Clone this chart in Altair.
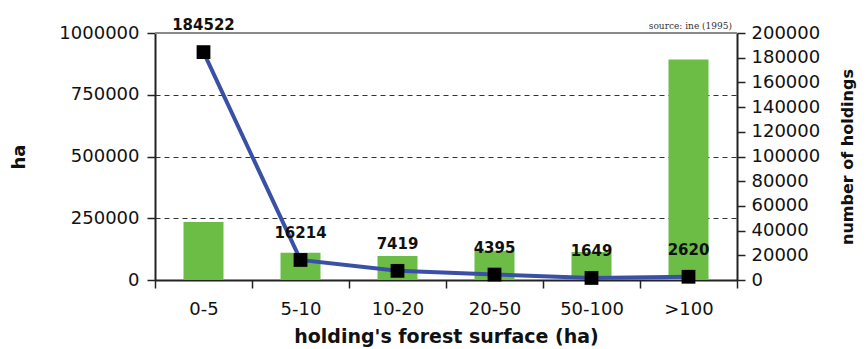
import altair as alt
import pandas as pd

categories = ["0-5", "5-10", "10-20", "20-50", "50-100", ">100"]
surface_ha = [235000, 110000, 97000, 118000, 113000, 893000]
holdings = [184522, 16214, 7419, 4395, 1649, 2620]
left_ticks = [0, 250000, 500000, 750000, 1000000]
right_ticks = list(range(0, 200001, 20000))

df = pd.DataFrame({
    "cat": categories,
    "ha": surface_ha,
    "holdings": holdings,
    "label": [str(v) for v in holdings],
})

GREEN = "#6cbd45"
BLUE = "#3a50a6"

x_enc = alt.X(
    "cat:N", sort=categories, title="holding's forest surface (ha)",
    scale=alt.Scale(paddingInner=0, paddingOuter=0),
    axis=alt.Axis(labelAngle=0, tickBand="extent", labelPadding=12,
                  titlePadding=9, titleFontSize=19),
)

bars = alt.Chart(df).mark_bar(color=GREEN, size=40).encode(
    x=x_enc,
    y=alt.Y("ha:Q", title="ha",
            scale=alt.Scale(domain=[0, 1000000], nice=False),
            axis=alt.Axis(values=left_ticks, format="d", grid=True,
                          gridDash=[5, 4], gridColor="#333", gridWidth=1,
                          titlePadding=30, labelPadding=8, titleFontSize=18)),
)

top_rule = alt.Chart(df).mark_rule(color="#8a8a8a", strokeWidth=2).encode(
    y=alt.datum(1000000)
)

left = alt.layer(bars, top_rule)

y_right = alt.Y("holdings:Q", title="number of holdings",
                scale=alt.Scale(domain=[0, 200000], nice=False),
                axis=alt.Axis(orient="right", values=right_ticks, format="d",
                              grid=False, titleAngle=270, titleBaseline="top",
                              titlePadding=20, titleFontSize=16, labelPadding=6))

line = alt.Chart(df).mark_line(color=BLUE, strokeWidth=4).encode(
    x=x_enc, y=y_right
)
pts = alt.Chart(df).mark_point(shape="square", filled=True, color="black",
                               size=190, opacity=1).encode(x=x_enc, y=y_right)
txt = alt.Chart(df).mark_text(font="DejaVu Sans", fontWeight="bold",
                              fontSize=15, color="#111", dy=-27).encode(
    x=x_enc, y=y_right, text="label:N"
)
right = alt.layer(line, pts, txt)

chart = alt.layer(left, right).resolve_scale(y="independent").properties(
    width=582, height=247,
    padding={"left": 155, "top": 33, "right": 130, "bottom": 69},
    autosize=alt.AutoSizeParams(type="none"),
    title=alt.TitleParams("source: ine (1995)", anchor="end", frame="group",
                          font="DejaVu Serif", fontSize=9, fontWeight="normal",
                          color="#333", offset=4, dx=-5, dy=17),
).configure_view(stroke=None).configure_axis(
    labelFont="DejaVu Sans", labelFontSize=18, labelColor="#111",
    titleFont="DejaVu Sans", titleFontWeight="bold", titleFontSize=17,
    titleColor="#111", domainColor="#222", domainWidth=2,
    tickColor="#222", tickWidth=1.5, tickSize=8,
)

chart.save("out.html", embed_options={"renderer": "svg", "actions": False})
